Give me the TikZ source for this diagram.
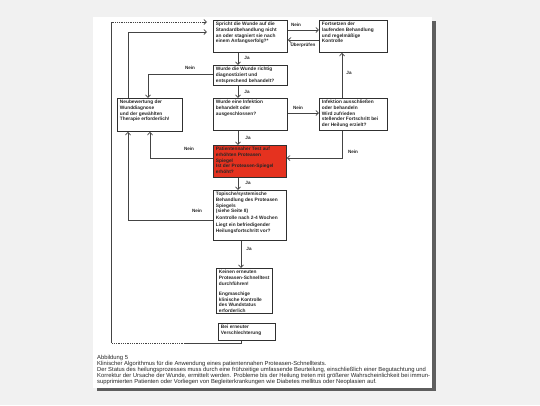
\documentclass[tikz,border=0pt]{standalone}
\usepackage{fontspec}
\setmainfont{Liberation Sans}
\usetikzlibrary{arrows.meta,calc}
\definecolor{bgc}{HTML}{F1F1F1}
\definecolor{shc}{HTML}{5E5E5E}
\definecolor{boxc}{HTML}{303030}
\definecolor{linec}{HTML}{444444}
\definecolor{redc}{HTML}{E5321F}
\newcommand{\flowbox}[7][]{\node[fc,#1] (#2) at (#3,#4) {\parbox[t][\dimexpr#6pt-4pt\relax][t]{\dimexpr#5pt-5pt\relax}{\raggedright #7}};}
\tikzset{
  fc/.style={draw=boxc, line width=0.9pt, fill=white, anchor=north west, inner xsep=2.5pt, inner ysep=2pt,
    font=\bfseries\fontsize{4.8}{5.6}\selectfont, text=black!85},
  conn/.style={draw=linec, line width=0.8pt, -{Straight Barb[length=2.6pt,width=5pt,line width=0.7pt]}},
  plainline/.style={draw=linec, line width=0.8pt},
  dotline/.style={draw=linec, line width=0.8pt, dash pattern=on 0.9pt off 0.9pt},
  lbl/.style={font=\bfseries\fontsize{4.6}{5}\selectfont, inner sep=0pt, text=black!85},
}
\begin{document}
\begin{tikzpicture}[x=1pt,y=-1pt]
\useasboundingbox (0,0) rectangle (540,405);
\fill[bgc] (0,0) rectangle (540,405);
\fill[shc] (97,21) rectangle (436,391);
\fill[white] (93,17) rectangle (432,388);

% boxes
\flowbox{box1}{213}{20}{74}{32}{Spricht die Wunde auf die\\Standardbehandlung nicht\\an oder stagniert sie nach\\einem Anfangserfolg?*}
\flowbox{box2}{319}{20}{68}{32}{Fortsetzen der\\laufenden Behandlung\\und regelmäßige\\Kontrolle}
\flowbox{box3}{213}{65}{74}{20}{Wurde die Wunde richtig\\diagnostiziert und\\entsprechend behandelt?}
\flowbox{box4}{117}{98}{65}{33}{Neubewertung der\\Wunddiagnose\\und der gewählten\\Therapie erforderlich!}
\flowbox{box5}{213}{98}{74}{32}{Wurde eine Infektion\\behandelt oder\\ausgeschlossen?}
\flowbox{box6}{319}{98}{68}{32}{Infektion ausschließen\\oder behandeln\\Wird zufrieden\\stellender Fortschritt bei\\der Heilung erzielt?}
\flowbox[fill=redc]{box7}{213}{145}{73}{32}{Patientennaher Test auf\\erhöhten Proteasen\\Spiegel\\Ist der Proteasen-Spiegel\\erhöht?}
\flowbox{box8}{213}{190}{73}{50}{Topische/systemische\\Behandlung des Proteasen\\Spiegels\\(siehe Seite 8)\\[1.5pt]Kontrolle nach 2-4 Wochen\\[1.5pt]Liegt ein befriedigender\\Heilungsfortschritt vor?}
\flowbox{box9}{216}{268}{56}{45}{Keinen erneuten\\Proteasen-Schnelltest\\durchführen!\\[5pt]Engmaschige\\klinische Kontrolle\\des Wundstatus\\erforderlich}
\flowbox{box10}{218}{323}{57}{17}{Bei erneuter\\Verschlechterung}

% connectors
\draw[conn] ($(box1.north east)+(0,10)$) -- ($(box2.north west)+(0,10)$);
\node[lbl] (l1) at (296,25) {Nein};
\draw[conn] ($(box2.north west)+(0,20)$) -- ($(box1.north east)+(0,20)$);
\node[lbl] (l2) at (303,45.5) {Überprüfen};
\draw[conn] ($(box1.south west)+(25,0)$) -- ($(box3.north west)+(25,0)$);
\node[lbl] (l3) at (247,58) {Ja};
\draw[conn] ($(box3.north west)+(0,9)$) -| ($(box4.north west)+(31,0)$);
\node[lbl] (l4) at (190,68) {Nein};
\draw[conn] ($(box3.south west)+(25,0)$) -- ($(box5.north west)+(25,0)$);
\node[lbl] (l5) at (247,92) {Ja};
\draw[conn] ($(box5.north east)+(0,15)$) -- ($(box6.north west)+(0,15)$);
\node[lbl] (l6) at (298,108) {Nein};
\draw[conn] ($(box6.north west)+(23,0)$) -- ($(box2.south west)+(23,0)$);
\node[lbl] (l7) at (349,73) {Ja};
\draw[conn] ($(box6.south west)+(23,0)$) |- ($(box7.north east)+(0,13)$);
\node[lbl] (l8) at (353,152) {Nein};
\draw[conn] ($(box5.south west)+(25,0)$) -- ($(box7.north west)+(25,0)$);
\node[lbl] (l9) at (248,138) {Ja};
\draw[conn] ($(box7.north west)+(0,13)$) -| ($(box4.south west)+(33,0)$);
\node[lbl] (l10) at (189,149) {Nein};
\draw[conn] ($(box7.south west)+(25,0)$) -- ($(box8.north west)+(25,0)$);
\node[lbl] (l11) at (248,183) {Ja};
\draw[conn] ($(box8.north west)+(0,30)$) -| ($(box4.south west)+(11,0)$);
\node[lbl] (l12) at (197,211) {Nein};
\draw[conn] ($(box8.south west)+(28,0)$) -- ($(box9.north west)+(25,0)$);
\node[lbl] (l13) at (249,249) {Ja};
\draw[conn, shorten >=6pt] ($(box4.north west)+(11,0)$) |- ($(box1.north west)+(0,12)$);

% return loop from box10
\coordinate (o1) at (185,343);
\coordinate (o2) at (111.5,343);
\coordinate (o3) at (111.5,22);
\draw[plainline] ($(box10.south west)+(23,0)$) |- (o1);
\draw[dotline] (o1) -- (o2);
\draw[plainline] (o2) -- (o3);
\draw[dotline] (o3) -- ($(box1.north west)+(-8,2)$);
\draw[conn, shorten >=6pt] ($(box1.north west)+(-9,2)$) -- ($(box1.north west)+(0,2)$);

% caption
\node[anchor=north west, inner sep=0pt, font=\fontsize{5.85}{6.0}\selectfont, text=black!85] (cap) at (97,355)
  {\parbox[t]{340pt}{\raggedright Abbildung 5\\
  Klinischer Algorithmus für die Anwendung eines patientennahen Proteasen-Schnelltests.\\
  *Der Status des heilungsprozesses muss durch eine frühzeitige umfassende Beurteilung, einschließlich einer Begutachtung und\\
  Korrektur der Ursache der Wunde, ermittelt werden. Probleme bis der Heilung treten mit größerer Wahrscheinlichkeit bei immun-\\
  supprimierten Patienten oder Vorliegen von Begleiterkrankungen wie Diabetes mellitus oder Neoplasien auf.}};
\end{tikzpicture}
\end{document}
